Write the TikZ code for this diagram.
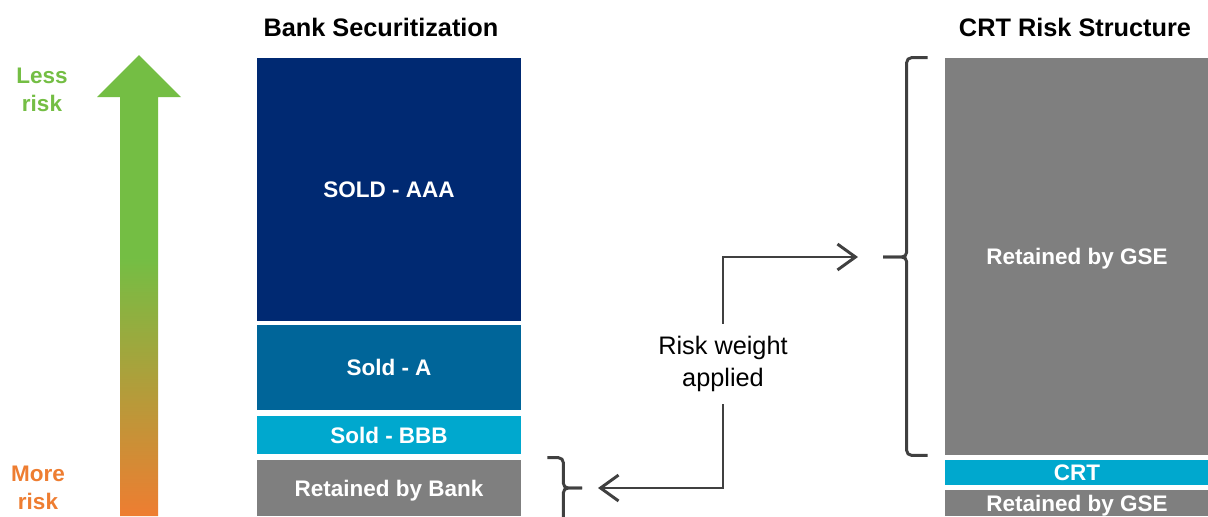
\documentclass[tikz,border=0pt]{standalone}
\usepackage{fontspec}
\setmainfont{Liberation Sans}
\usetikzlibrary{arrows.meta,calc}
\definecolor{aaablue}{RGB}{0,41,114}
\definecolor{ablue}{RGB}{0,101,153}
\definecolor{bbbcyan}{RGB}{0,168,206}
\definecolor{retgray}{RGB}{127,127,127}
\definecolor{linegray}{RGB}{64,64,64}
\definecolor{riskgreen}{RGB}{116,190,68}
\definecolor{riskorange}{RGB}{238,125,49}
\pgfdeclareverticalshading{riskshade}{100bp}{color(0bp)=(riskorange); color(25bp)=(riskorange); color(53bp)=(riskgreen); color(100bp)=(riskgreen)}
\tikzset{
  tranche/.style={rectangle,inner sep=0pt,minimum width=6.6cm,text=white,text depth=0pt,
    font=\bfseries\fontsize{16}{19}\selectfont},
  coltitle/.style={font=\bfseries\fontsize{18}{22}\selectfont},
  risklbl/.style={align=center,font=\bfseries\fontsize{16}{19.8}\selectfont},
  bracket/.style={linegray,line width=2.1pt,rounded corners=0.12cm},
  conn/.style={linegray,line width=2.1pt,-{Straight Barb[length=12.8pt,width=18.4pt]}}
}
\begin{document}
\begin{tikzpicture}[x=0.025cm,y=-0.025cm]
\useasboundingbox[fill=white] (0,0) rectangle (1208,516);
% risk arrow
\path[shading=riskshade] (120,516) -- (120,97) -- (97,97) -- (139,55) -- (181,97)
  -- (158,97) -- (158,516) -- cycle;
\node[risklbl,text=riskgreen] (less) at (42,90) {Less\\risk};
\node[risklbl,text=riskorange] (more) at (38,488) {More\\risk};
% bank securitization
\node[coltitle] (banktitle) at (381,27) {Bank Securitization};
\node[tranche,fill=aaablue,minimum height=6.575cm] (aaa) at (389,189.5) {SOLD - AAA};
\node[tranche,fill=ablue,minimum height=2.125cm] (a) at (389,367.5) {Sold - A};
\node[tranche,fill=bbbcyan,minimum height=0.95cm] (bbb) at (389,435) {Sold - BBB};
\node[tranche,fill=retgray,minimum height=1.4cm] (bank) at (389,488) {Retained by Bank};
% crt risk structure
\node[coltitle] (crttitle) at (1075,27) {CRT Risk Structure};
\node[tranche,fill=retgray,minimum height=9.925cm] (gsetop) at (1077,256.5) {Retained by GSE};
\node[tranche,fill=bbbcyan,minimum height=0.625cm] (crt) at (1077,472.5) {CRT};
\node[tranche,fill=retgray,minimum height=0.65cm] (gsebot) at (1077,503) {Retained by GSE};
% braces
\coordinate (bigtip) at (883,257);
\coordinate (smalltip) at (582,488);
\draw[bracket] ($(gsetop.north west)+(-17,0)$) -- ++(-21,0) |- (bigtip);
\draw[bracket] ($(gsetop.south west)+(-17,0)$) -- ++(-21,0) |- (bigtip);
\draw[bracket] ($(bank.north east)+(26,-2)$) -- ++(16,0) |- (smalltip);
\draw[bracket] ($(bank.north east)+(26,68)$) -- ++(16,0) |- (smalltip);
% risk weight
\node[align=center,inner xsep=0pt,inner ysep=0.3cm,font=\fontsize{18}{22.7}\selectfont] (rw) at (723,364) {Risk weight\\applied};
\draw[conn] (rw.north) |- ($(bigtip)+(-25,0)$);
\draw[conn] (rw.south) |- ($(smalltip)+(16,0)$);
\end{tikzpicture}
\end{document}
